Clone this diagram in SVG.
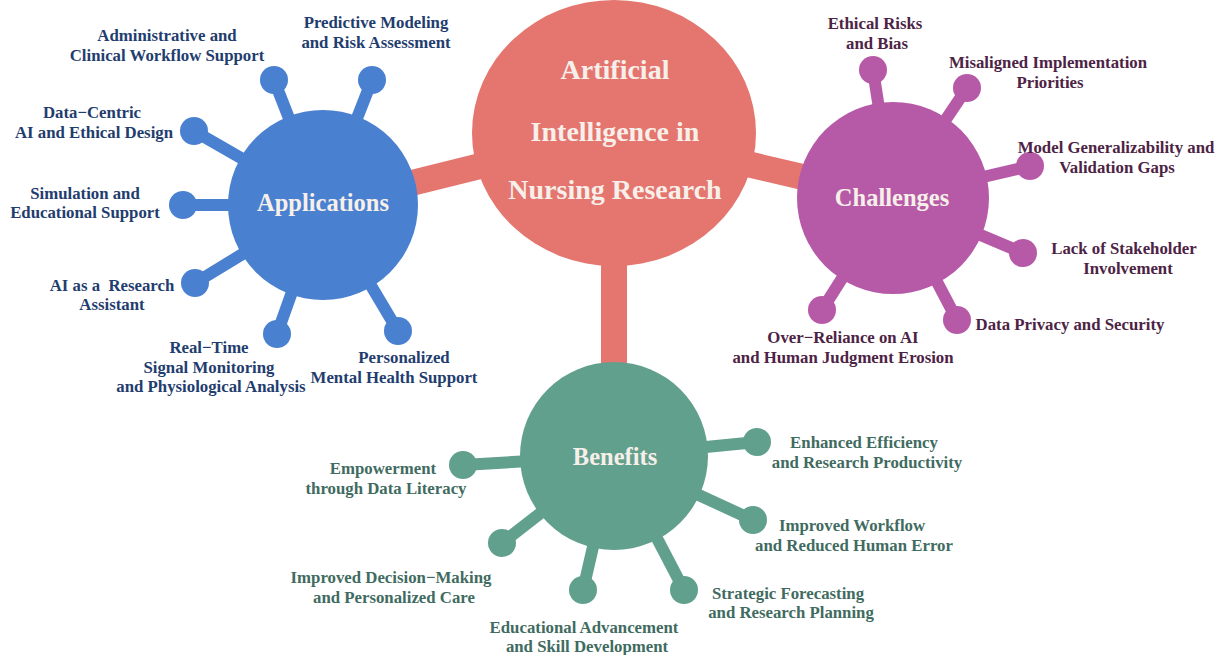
<svg xmlns="http://www.w3.org/2000/svg" width="1223" height="655" viewBox="0 0 1223 655">
  <style>
    text { font-family: "Liberation Serif", "Times New Roman", serif; font-weight: bold; text-anchor: middle; }
    .lbl { font-size: 16.8px; }
    .app { fill: #1f3d6e; }
    .chl { fill: #4d2345; }
    .ben { fill: #3f6b61; }
    .hubtxt { fill: #f7efe9; font-size: 24.5px; }
    .core { fill: #f7efe9; font-size: 28px; }
    .pre { white-space: pre; }
    .bar { stroke: #e4766f; stroke-width: 26; }
    .sp-app { stroke: #4a80d0; stroke-width: 12; }
    .sp-chl { stroke: #b65aa8; stroke-width: 12; }
    .sp-ben { stroke: #62a08e; stroke-width: 12; }
    .f-app { fill: #4a80d0; }
    .f-chl { fill: #b65aa8; }
    .f-ben { fill: #62a08e; }
    .f-core { fill: #e4766f; }
  </style>
  <rect width="1223" height="655" fill="#ffffff"/>

  <!-- thick links from the core topic to the three branches -->
  <g id="connectors">
    <line class="bar" x1="614" y1="133" x2="323" y2="205"/>
    <line class="bar" x1="614" y1="133" x2="893" y2="198"/>
    <line class="bar" x1="614" y1="133" x2="614" y2="456"/>
  </g>

  <!-- core topic -->
  <g id="core">
    <ellipse class="f-core" cx="614" cy="133" rx="142" ry="133"/>
    <text class="core" x="615" y="79">Artificial</text>
    <text class="core" x="615" y="141">Intelligence in</text>
    <text class="core" x="615" y="199">Nursing Research</text>
  </g>

  <!-- Applications branch -->
  <g id="applications">
    <g>
      <line class="sp-app" x1="323" y1="205" x2="274" y2="80"/>
      <line class="sp-app" x1="323" y1="205" x2="372" y2="80"/>
      <line class="sp-app" x1="323" y1="205" x2="194" y2="131"/>
      <line class="sp-app" x1="323" y1="205" x2="183" y2="205"/>
      <line class="sp-app" x1="323" y1="205" x2="195" y2="283"/>
      <line class="sp-app" x1="323" y1="205" x2="277" y2="334"/>
      <line class="sp-app" x1="323" y1="205" x2="398" y2="331"/>
    </g>
    <g class="f-app">
      <circle cx="274" cy="80" r="14"/>
      <circle cx="372" cy="80" r="14"/>
      <circle cx="194" cy="131" r="14"/>
      <circle cx="183" cy="205" r="14"/>
      <circle cx="195" cy="283" r="14"/>
      <circle cx="277" cy="334" r="14"/>
      <circle cx="398" cy="331" r="14"/>
      <circle cx="323" cy="205" r="95"/>
    </g>
    <text class="hubtxt" x="323" y="211">Applications</text>
    <g class="lbl app">
      <text x="167" y="41">Administrative and</text>
      <text x="167" y="61">Clinical Workflow Support</text>
      <text x="376" y="28">Predictive Modeling</text>
      <text x="376" y="48">and Risk Assessment</text>
      <text x="92" y="118">Data−Centric</text>
      <text x="94" y="138">AI and Ethical Design</text>
      <text x="85" y="199">Simulation and</text>
      <text x="85" y="218">Educational Support</text>
      <text class="pre" x="112" y="291">AI as a  Research</text>
      <text x="112" y="310">Assistant</text>
      <text x="209" y="353">Real−Time</text>
      <text x="209" y="373">Signal Monitoring</text>
      <text x="211" y="392">and Physiological Analysis</text>
      <text x="404" y="363">Personalized</text>
      <text x="394" y="383">Mental Health Support</text>
    </g>
  </g>

  <!-- Challenges branch -->
  <g id="challenges">
    <g>
      <line class="sp-chl" x1="893" y1="198" x2="873" y2="70"/>
      <line class="sp-chl" x1="893" y1="198" x2="967" y2="88"/>
      <line class="sp-chl" x1="893" y1="198" x2="1030" y2="166"/>
      <line class="sp-chl" x1="893" y1="198" x2="1023" y2="253"/>
      <line class="sp-chl" x1="893" y1="198" x2="957" y2="320"/>
      <line class="sp-chl" x1="893" y1="198" x2="822" y2="310"/>
    </g>
    <g class="f-chl">
      <circle cx="873" cy="70" r="14"/>
      <circle cx="967" cy="88" r="14"/>
      <circle cx="1030" cy="166" r="14"/>
      <circle cx="1023" cy="253" r="14"/>
      <circle cx="957" cy="320" r="14"/>
      <circle cx="822" cy="310" r="14"/>
      <circle cx="893" cy="198" r="96"/>
    </g>
    <text class="hubtxt" x="892" y="206">Challenges</text>
    <g class="lbl chl">
      <text x="875" y="29">Ethical Risks</text>
      <text x="877" y="49">and Bias</text>
      <text x="1048" y="68">Misaligned Implementation</text>
      <text x="1050" y="88">Priorities</text>
      <text x="1116" y="153">Model Generalizability and</text>
      <text x="1117" y="173">Validation Gaps</text>
      <text x="1124" y="254">Lack of Stakeholder</text>
      <text x="1128" y="274">Involvement</text>
      <text x="1070" y="330">Data Privacy and Security</text>
      <text x="843" y="343">Over−Reliance on AI</text>
      <text x="843" y="363">and Human Judgment Erosion</text>
    </g>
  </g>

  <!-- Benefits branch -->
  <g id="benefits">
    <g>
      <line class="sp-ben" x1="614" y1="456" x2="463" y2="465"/>
      <line class="sp-ben" x1="614" y1="456" x2="502" y2="543"/>
      <line class="sp-ben" x1="614" y1="456" x2="583" y2="590"/>
      <line class="sp-ben" x1="614" y1="456" x2="684" y2="590"/>
      <line class="sp-ben" x1="614" y1="456" x2="753" y2="520"/>
      <line class="sp-ben" x1="614" y1="456" x2="757" y2="442"/>
    </g>
    <g class="f-ben">
      <circle cx="463" cy="465" r="14"/>
      <circle cx="502" cy="543" r="14"/>
      <circle cx="583" cy="590" r="14"/>
      <circle cx="684" cy="590" r="14"/>
      <circle cx="753" cy="520" r="14"/>
      <circle cx="757" cy="442" r="14"/>
      <circle cx="614" cy="456" r="94"/>
    </g>
    <text class="hubtxt" x="615" y="465">Benefits</text>
    <g class="lbl ben">
      <text x="864" y="448">Enhanced Efficiency</text>
      <text x="867" y="468">and Research Productivity</text>
      <text x="852" y="531">Improved Workflow</text>
      <text x="854" y="551">and Reduced Human Error</text>
      <text x="788" y="599">Strategic Forecasting</text>
      <text x="791" y="618">and Research Planning</text>
      <text x="383" y="474">Empowerment</text>
      <text x="386" y="494">through Data Literacy</text>
      <text x="391" y="583">Improved Decision−Making</text>
      <text x="394" y="603">and Personalized Care</text>
      <text x="584" y="633">Educational Advancement</text>
      <text x="587" y="652">and Skill Development</text>
    </g>
  </g>
</svg>
